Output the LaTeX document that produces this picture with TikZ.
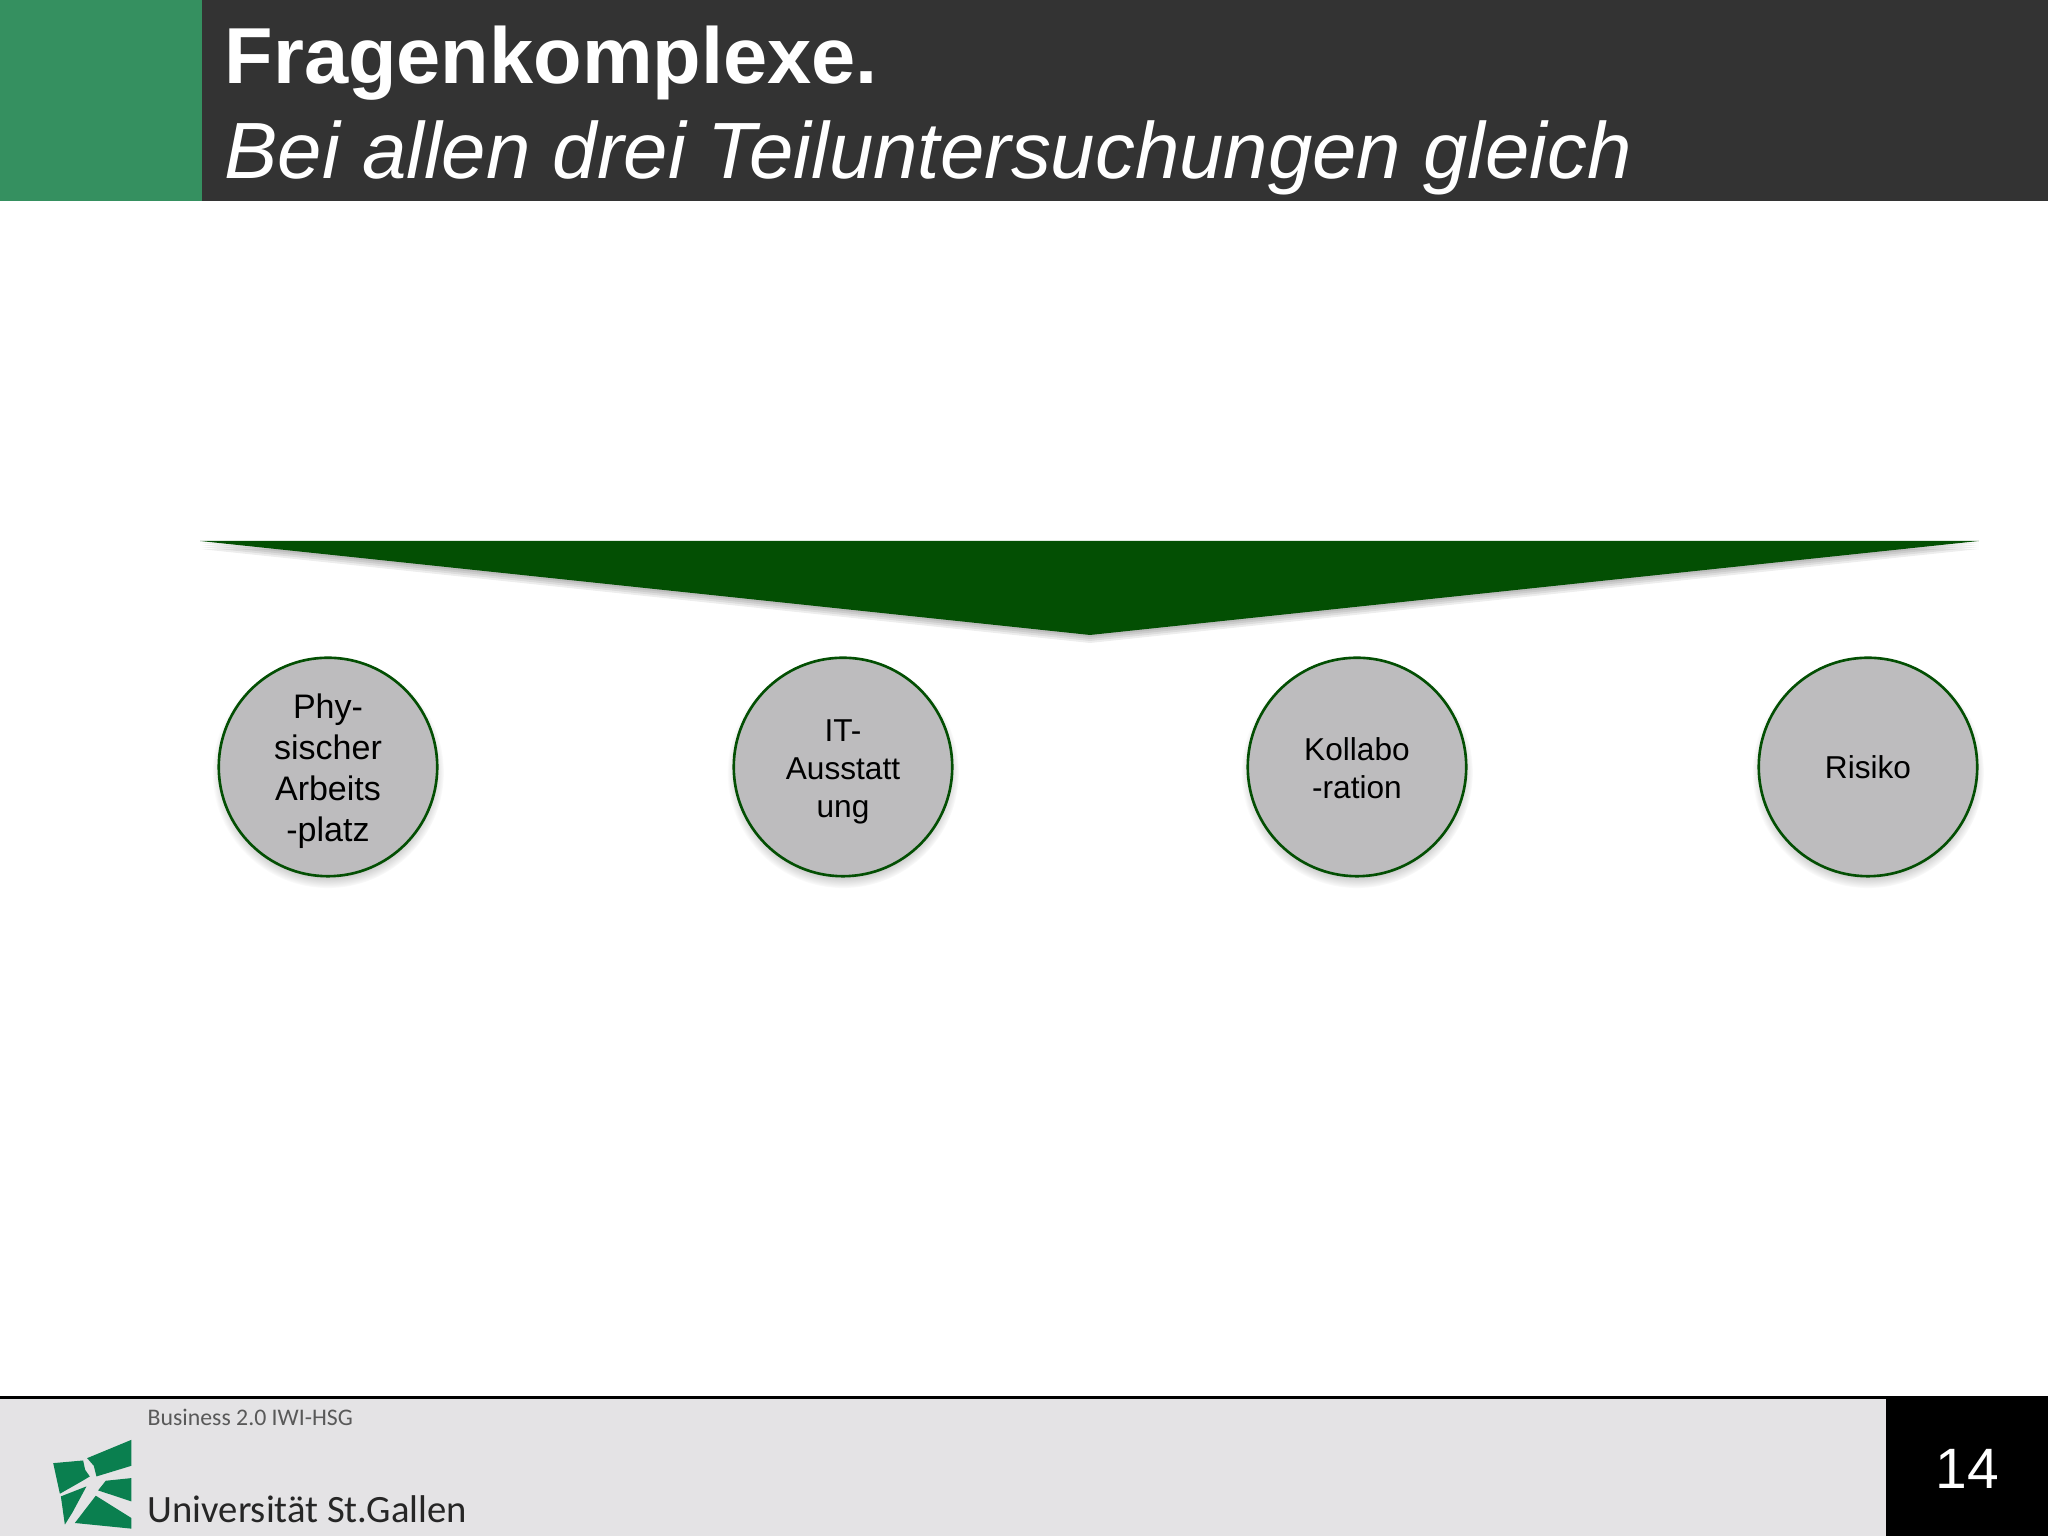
\documentclass[tikz,border=0pt]{standalone}
\usepackage{fontspec}
\setmainfont{Liberation Sans}
\newfontfamily\logofont{Carlito}
\usetikzlibrary{shadows}
\definecolor{headgreen}{HTML}{359060}
\definecolor{headdark}{HTML}{333333}
\definecolor{footgrey}{HTML}{E4E3E5}
\definecolor{arrowgreen}{HTML}{034F03}
\definecolor{circlegrey}{HTML}{BDBCBE}
\definecolor{logogreen}{HTML}{0A7F4F}
\newcommand{\firstline}[1]{\rule{0pt}{#1}}
\tikzset{
  topic/.style={circle,draw=arrowgreen,line width=.75pt,fill=circlegrey,minimum size=2.185cm,inner sep=0pt,
    align=center,text=black,circular drop shadow={shadow xshift=0cm,shadow yshift=-.05cm,shadow scale=1.06,opacity=.6}},
  titletext/.style={anchor=base west,inner sep=0pt,text=white},
  logopart/.style={fill=logogreen,draw=none}
}
\begin{document}
\begin{tikzpicture}

        \useasboundingbox (0,0) rectangle (20.48,15.36);
        \fill[white] (0,0) rectangle (20.48,15.36);

        % header
        \fill[headdark] (2.02,13.35) rectangle (20.48,15.36);
        \fill[headgreen] (0,13.35) rectangle (2.02,15.36);
        \node[titletext,font=\fontsize{22.6}{27}\selectfont] (title) at (2.24,14.52) {\bfseries Fragenkomplexe.};
        \node[titletext,font=\fontsize{22.7}{27}\selectfont] (subtitle) at (2.24,13.57) {\itshape Bei allen drei Teiluntersuchungen gleich};

        % big arrow
        \foreach \off in {.02,.04,.06,.08}
          \fill[black,opacity=.07] (2,9.95-\off) -- (19.79,9.95-\off) -- (10.9,9.01-\off) -- cycle;
        \fill[arrowgreen] (2,9.95) -- (19.79,9.95) -- (10.9,9.01) -- cycle;

        \begin{scope}
          \node[topic,font=\fontsize{9.68}{11.64}\selectfont] (arbeitsplatz) at (3.28,7.69) {\firstline{9.3pt}Phy-\\sischer\\Arbeits\\-platz};
          \node[topic,font=\fontsize{9}{10.8}\selectfont] (ausstattung) at (8.43,7.69) {\firstline{9.2pt}IT-\\Ausstatt\\ung};
          \node[topic,font=\fontsize{9}{10.8}\selectfont] (kollaboration) at (13.57,7.69) {\firstline{7pt}Kollabo\\-ration};
          \node[topic,font=\fontsize{9}{10.8}\selectfont] (risiko) at (18.68,7.69) {\firstline{6.9pt}Risiko};
        \end{scope}

        % footer
        \fill[footgrey] (0,0) rectangle (18.86,1.38);
        \fill[black] (18.86,0) rectangle (20.48,1.38);
        \fill[black] (0,1.37) rectangle (20.48,1.4);
        \node[text=white,font=\fontsize{16.2}{20}\selectfont] (page) at (19.67,.67) {14};
        \node[anchor=base west,inner sep=0pt,text=black!65,font=\logofont\fontsize{6.77}{8}\selectfont] (course) at (1.47,1.10) {Business 2.0 IWI-HSG};
        \node[anchor=base west,inner sep=0pt,text=black!85,font=\logofont\fontsize{11}{13}\selectfont] (university) at (1.47,.13) {Universität St.Gallen};

        % logo
        \begin{scope}[x=.003333cm,y=-.003333cm,shift={(0cm,1.56cm)}]
          \fill[logopart] (160,250) -- (250,242) -- (256,270) -- (270,290) -- (245,305) -- (180,342) -- cycle;
          \fill[logopart] (395,180) -- (395,258) -- (290,290) -- (282,258) -- (262,235) -- cycle;
          \fill[logopart] (395,295) -- (395,365) -- (295,332) -- (318,303) -- cycle;
          \fill[logopart] (260,320) -- (218,398) -- (195,435) -- (183,350) -- cycle;
          \fill[logopart] (288,348) -- (395,415) -- (395,447) -- (225,430) -- cycle;
        \end{scope}

      \end{tikzpicture}
\end{document}
